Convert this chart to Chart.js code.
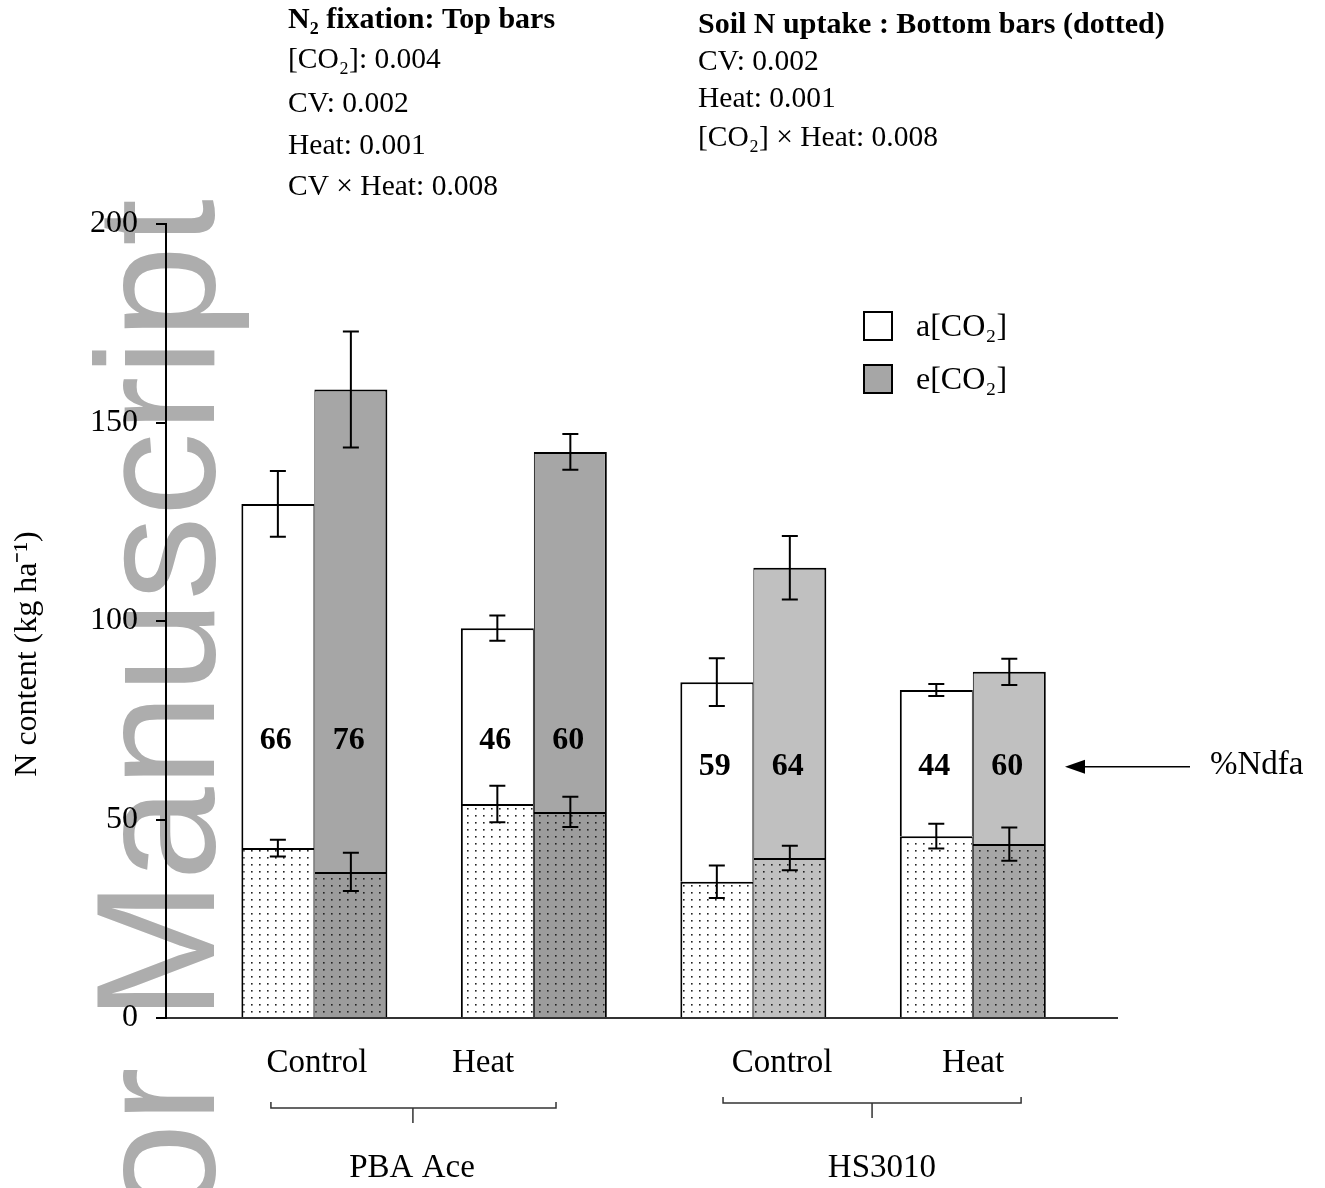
<!DOCTYPE html>
<html>
<head>
<meta charset="utf-8">
<script src="https://cdn.jsdelivr.net/npm/chart.js@4.4.0/dist/chart.umd.min.js"></script>
<style>
  html, body { margin: 0; padding: 0; background: #fff; }
  canvas { display: block; }
</style>
</head>
<body>
<canvas id="chart" width="1325" height="1188"></canvas>
<script>
// ---- data ----
const cultivars = ['PBA Ace', 'HS3010'];
const treatments = ['Control', 'Heat', 'Control', 'Heat'];
const yTicks = [0, 50, 100, 150, 200];

// total N content (top of bars), kg ha-1, with error
const totalA = [129.5, 98.2, 84.6, 82.6];
const totalAErr = [8.3, 3.2, 6.0, 1.5];
const totalE = [158.3, 142.6, 113.4, 87.2];
const totalEErr = [14.6, 4.5, 8.0, 3.3];

// soil N uptake (dotted bottom bars), kg ha-1, with error
const soilA = [42.8, 53.9, 34.3, 45.8];
const soilAErr = [2.1, 4.6, 4.1, 3.1];
const soilE = [36.8, 51.9, 40.3, 43.8];
const soilEErr = [4.8, 3.8, 3.1, 4.2];

// %Ndfa printed inside the bars
const ndfaA = [66, 46, 59, 44];
const ndfaE = [76, 60, 64, 60];

const fixationStats = ['N₂ fixation: Top bars', '[CO₂]: 0.004', 'CV: 0.002', 'Heat: 0.001', 'CV × Heat: 0.008'];
const soilStats = ['Soil N uptake : Bottom bars (dotted)', 'CV: 0.002', 'Heat: 0.001', '[CO₂] × Heat: 0.008'];

// ---- layout ----
const SERIF = '"Liberation Serif", "Times New Roman", serif';
const X_MIN = -0.676, X_MAX = 3.657;
const labelPos = [0.012, 0.769, 2.131, 3.001];
const brackets = [
  { from: -0.198, to: 1.101, mid: 0.449, text: 0.445, dy: 90 },
  { from: 1.862, to: 3.22, mid: 2.541, text: 2.586, dy: 85 }
];
const ndfaY = [69.8, 69.8, 63.3, 63.3];

const fixE = ['#a6a6a6', '#a6a6a6', '#c0c0c0', '#c0c0c0'];
const soilEBase = ['#9c9c9c', '#9c9c9c', '#c0c0c0', '#a6a6a6'];

const ctx = document.getElementById('chart').getContext('2d');

function dots(base) {
  const t = document.createElement('canvas');
  t.width = 8; t.height = 7;
  const c = t.getContext('2d');
  c.fillStyle = base;
  c.fillRect(0, 0, 8, 7);
  c.fillStyle = '#222';
  c.fillRect(3, 3, 1.6, 1.6);
  return ctx.createPattern(t, 'repeat');
}

const pts = arr => arr.map((v, i) => ({ x: i, y: v }));
const diff = (a, b) => a.map((v, i) => v - b[i]);

const borderA = { top: 2, left: 2, right: 1, bottom: 0 };
const borderE = { top: 2, left: 1, right: 2, bottom: 0 };

const datasets = [
  { label: 'soil a', stack: 'a', data: pts(soilA), backgroundColor: dots('#ffffff'),
    borderWidth: borderA, tops: soilA, errs: soilAErr },
  { label: 'a[CO₂]', stack: 'a', data: pts(diff(totalA, soilA)), backgroundColor: '#ffffff',
    borderWidth: borderA, tops: totalA, errs: totalAErr, ndfa: ndfaA },
  { label: 'soil e', stack: 'e', data: pts(soilE), backgroundColor: soilEBase.map(dots),
    borderWidth: borderE, tops: soilE, errs: soilEErr },
  { label: 'e[CO₂]', stack: 'e', data: pts(diff(totalE, soilE)), backgroundColor: fixE,
    borderWidth: borderE, tops: totalE, errs: totalEErr, ndfa: ndfaE }
];

const decorations = {
  id: 'decorations',
  beforeDraw(chart) {
    const c = chart.ctx;
    c.save();
    c.fillStyle = '#fff';
    c.fillRect(0, 0, chart.width, chart.height);
    // watermark
    c.translate(214, 199);
    c.rotate(-Math.PI / 2);
    c.fillStyle = '#adadad';
    c.font = '168px "Liberation Sans", Arial, sans-serif';
    c.textAlign = 'right';
    c.textBaseline = 'alphabetic';
    c.fillText('Author Manuscript', 0, 0);
    c.restore();
  },
  afterDatasetsDraw(chart) {
    const c = chart.ctx;
    const { x, y } = chart.scales;
    const area = chart.chartArea;
    c.save();
    // error bars
    c.strokeStyle = '#000';
    c.lineWidth = 2;
    chart.data.datasets.forEach((ds, i) => {
      chart.getDatasetMeta(i).data.forEach((bar, j) => {
        const y1 = y.getPixelForValue(ds.tops[j] + ds.errs[j]);
        const y2 = y.getPixelForValue(ds.tops[j] - ds.errs[j]);
        c.beginPath();
        c.moveTo(bar.x, y1); c.lineTo(bar.x, y2);
        c.moveTo(bar.x - 8, y1); c.lineTo(bar.x + 8, y1);
        c.moveTo(bar.x - 8, y2); c.lineTo(bar.x + 8, y2);
        c.stroke();
      });
    });
    // %Ndfa numbers
    c.fillStyle = '#000';
    c.font = 'bold 32px ' + SERIF;
    c.textAlign = 'center';
    c.textBaseline = 'middle';
    chart.data.datasets.forEach((ds, i) => {
      if (!ds.ndfa) return;
      chart.getDatasetMeta(i).data.forEach((bar, j) => {
        c.fillText(String(ds.ndfa[j]), bar.x - 2, y.getPixelForValue(ndfaY[j]));
      });
    });
    // arrow + %Ndfa
    const ay = y.getPixelForValue(ndfaY[3]);
    c.lineWidth = 1.5;
    c.beginPath();
    c.moveTo(area.right + 73, ay); c.lineTo(area.right - 40, ay);
    c.stroke();
    c.beginPath();
    c.moveTo(area.right - 52, ay);
    c.lineTo(area.right - 32, ay - 7);
    c.lineTo(area.right - 32, ay + 7);
    c.closePath();
    c.fill();
    c.font = '33px ' + SERIF;
    c.textAlign = 'left';
    c.fillText('%Ndfa', area.right + 93, ay - 1);

    // legend
    const legend = [[datasets[1], 312], [datasets[3], 365]];
    c.lineWidth = 2;
    legend.forEach(([ds, top]) => {
      const fill = Array.isArray(ds.backgroundColor) ? ds.backgroundColor[0] : ds.backgroundColor;
      c.fillStyle = fill;
      c.fillRect(864, top, 28, 28);
      c.strokeRect(864, top, 28, 28);
      c.fillStyle = '#000';
      c.font = '32px ' + SERIF;
      c.textBaseline = 'alphabetic';
      c.fillText(ds.label, 916, top + 24);
    });

    // statistics text above the plot
    c.textAlign = 'left';
    c.textBaseline = 'alphabetic';
    const leftY = [28, 68, 112, 154, 195];
    fixationStats.forEach((t, i) => {
      c.font = (i === 0 ? 'bold 30px ' : '29.5px ') + SERIF;
      c.fillText(t, 288, leftY[i]);
    });
    const rightY = [33, 70, 107, 146];
    soilStats.forEach((t, i) => {
      c.font = (i === 0 ? 'bold 30px ' : '29.5px ') + SERIF;
      c.fillText(t, 698, rightY[i]);
    });

    // cultivar brackets
    c.strokeStyle = '#333';
    c.lineWidth = 1.5;
    c.font = '33px ' + SERIF;
    c.textAlign = 'center';
    brackets.forEach((b, i) => {
      const by = area.bottom + b.dy;
      const x1 = x.getPixelForValue(b.from), x2 = x.getPixelForValue(b.to), xm = x.getPixelForValue(b.mid);
      c.beginPath();
      c.moveTo(x1, by - 6); c.lineTo(x1, by); c.lineTo(x2, by); c.lineTo(x2, by - 6);
      c.moveTo(xm, by); c.lineTo(xm, by + 15);
      c.stroke();
      c.fillText(cultivars[i], x.getPixelForValue(b.text), area.bottom + 159);
    });

    // y axis title
    c.translate(36, 654);
    c.rotate(-Math.PI / 2);
    c.font = '32px ' + SERIF;
    c.textAlign = 'center';
    c.fillText('N content (kg ha⁻¹)', 0, 0);
    c.restore();
  }
};

new Chart(ctx, {
  type: 'bar',
  data: { datasets },
  options: {
    responsive: false,
    devicePixelRatio: 1,
    animation: false,
    layout: { padding: { left: 66, right: 208, top: 224, bottom: 110 } },
    datasets: {
      bar: { barThickness: 73, borderColor: '#000', borderSkipped: false, inflateAmount: 0 }
    },
    plugins: { legend: { display: false }, tooltip: { enabled: false } },
    scales: {
      x: {
        type: 'linear',
        offset: false,
        min: X_MIN,
        max: X_MAX,
        afterBuildTicks: s => { s.ticks = labelPos.map(v => ({ value: v })); },
        afterFit: s => { s.height = 60; },
        grid: { display: false, drawTicks: false, offset: false },
        border: { display: true, color: '#333', width: 2 },
        ticks: {
          autoSkip: false,
          maxRotation: 0,
          padding: 26,
          color: '#000',
          font: { family: SERIF, size: 33 },
          callback: (v, i) => treatments[i]
        }
      },
      y: {
        stacked: true,
        min: 0,
        max: 200,
        afterBuildTicks: s => { s.ticks = yTicks.map(v => ({ value: v })); },
        afterFit: s => { s.width = 100; },
        grid: { drawOnChartArea: false, drawTicks: true, tickLength: 10, color: '#000', lineWidth: 2 },
        border: { display: true, color: '#000', width: 2 },
        ticks: {
          padding: 18,
          color: '#000',
          font: { family: SERIF, size: 32 }
        }
      }
    }
  },
  plugins: [decorations]
});
</script>
</body>
</html>
